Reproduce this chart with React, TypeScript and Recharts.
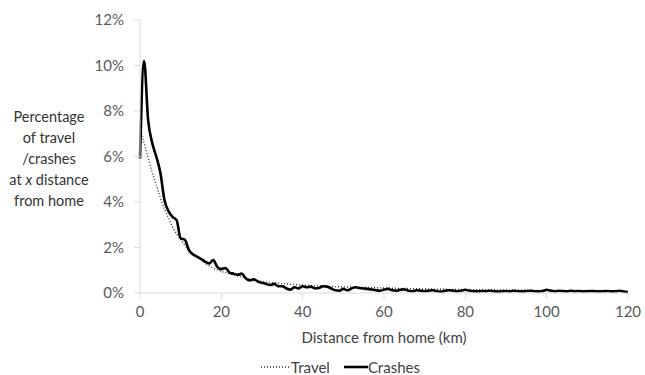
import { LineChart, Line, XAxis, YAxis } from "recharts"

const X_TICKS = [0, 20, 40, 60, 80, 100, 120]
const Y_TICKS = [0, 2, 4, 6, 8, 10, 12]

// travel share (%) by distance from home (km)
const travelKm = [0, 1, 2, 3, 4, 5, 6, 7, 8, 9, 10, 11, 12, 13, 14, 15, 16, 17, 18, 19, 20, 22, 24, 26, 28, 30, 33, 36, 40, 45, 50, 60, 70, 80, 90, 100, 110, 120]
const travelPct = [7.3, 6.6, 5.95, 5.3, 4.75, 4.2, 3.7, 3.3, 2.9, 2.6, 2.35, 2.1, 1.9, 1.72, 1.58, 1.45, 1.32, 1.2, 1.1, 1.02, 0.95, 0.85, 0.75, 0.66, 0.58, 0.5, 0.45, 0.4, 0.35, 0.3, 0.27, 0.22, 0.18, 0.15, 0.13, 0.11, 0.09, 0.07]

// crash share (%) at each km, 0..120
const crashPct = [
  5.9, 10.2, 7.6, 6.6, 6.0, 5.3, 4.1, 3.6, 3.35, 3.2,
  2.4, 2.35, 1.9, 1.7, 1.6, 1.5, 1.38, 1.3, 1.45, 1.15,
  1.05, 1.1, 0.9, 0.85, 0.8, 0.85, 0.65, 0.55, 0.6, 0.5,
  0.45, 0.4, 0.35, 0.4, 0.3, 0.3, 0.2, 0.15, 0.25, 0.2,
  0.3, 0.25, 0.28, 0.2, 0.22, 0.3, 0.28, 0.2, 0.12, 0.1,
  0.18, 0.12, 0.2, 0.25, 0.22, 0.2, 0.18, 0.15, 0.12, 0.1,
  0.15, 0.18, 0.12, 0.1, 0.14, 0.16, 0.1, 0.08, 0.12, 0.1,
  0.08, 0.1, 0.12, 0.08, 0.06, 0.1, 0.12, 0.1, 0.08, 0.1,
  0.14, 0.1, 0.08, 0.07, 0.09, 0.08, 0.1, 0.08, 0.06, 0.08,
  0.09, 0.07, 0.1, 0.08, 0.07, 0.09, 0.1, 0.08, 0.07, 0.09,
  0.14, 0.1, 0.08, 0.1, 0.09, 0.07, 0.1, 0.08, 0.09, 0.07,
  0.08, 0.09, 0.08, 0.07, 0.08, 0.09, 0.07, 0.08, 0.1, 0.06,
  0.03,
]

const travelData = travelKm.map((km, i) => ({ km, pct: travelPct[i] }))
const crashData = crashPct.map((pct, km) => ({ km, pct }))

const FONT = "Lato, 'Open Sans', sans-serif"
const AXIS = "#d9d9d9"
const TICK = { fill: "#595959", fontSize: 15, fontFamily: FONT }

export default function App() {
  return (
    <div style={{ position: "absolute", left: 0, top: 0, width: 645, height: 375, background: "#fff", fontFamily: FONT }}>
      <LineChart width={645} height={375} margin={{ top: 20, right: 17, left: 80, bottom: 52 }}>
        <XAxis
          type="number"
          dataKey="km"
          domain={[0, 120]}
          ticks={X_TICKS}
          allowDuplicatedCategory={false}
          stroke={AXIS}
          tickSize={6}
          tickMargin={7}
          tick={TICK}
          height={30}
        />
        <YAxis
          type="number"
          domain={[0, 12]}
          ticks={Y_TICKS}
          tickFormatter={(v: number) => `${v}%`}
          stroke={AXIS}
          tickSize={6}
          tickMargin={10}
          tick={TICK}
          width={60}
        />
        <Line
          data={travelData}
          dataKey="pct"
          name="Travel"
          type="monotone"
          stroke="#333"
          strokeWidth={1.4}
          strokeDasharray="1 2"
          dot={false}
          isAnimationActive={false}
        />
        <Line
          data={crashData}
          dataKey="pct"
          name="Crashes"
          type="monotone"
          stroke="#000"
          strokeWidth={2.6}
          dot={false}
          isAnimationActive={false}
        />
      </LineChart>

      <div style={{ position: "absolute", left: 0, top: 106, width: 98, textAlign: "center", fontSize: 14.5, lineHeight: "21px", color: "#333" }}>
        Percentage<br />of travel<br />/crashes<br />at <i>x</i> distance<br />from home
      </div>

      <div style={{ position: "absolute", left: 140, width: 488, top: 328, textAlign: "center", fontSize: 15, color: "#404040" }}>
        Distance from home (km)
      </div>

      <div style={{ position: "absolute", left: 36, width: 609, top: 358, display: "flex", justifyContent: "center", alignItems: "center", fontSize: 15, color: "#404040" }}>
        <svg width={30} height={10}>
          <line x1={0} y1={5} x2={30} y2={5} stroke="#333" strokeWidth={1.4} strokeDasharray="1 2" />
        </svg>
        <span style={{ marginRight: 14 }}>Travel</span>
        <svg width={24} height={10}>
          <line x1={0} y1={5} x2={24} y2={5} stroke="#000" strokeWidth={2.6} />
        </svg>
        <span>Crashes</span>
      </div>
    </div>
  )
}
